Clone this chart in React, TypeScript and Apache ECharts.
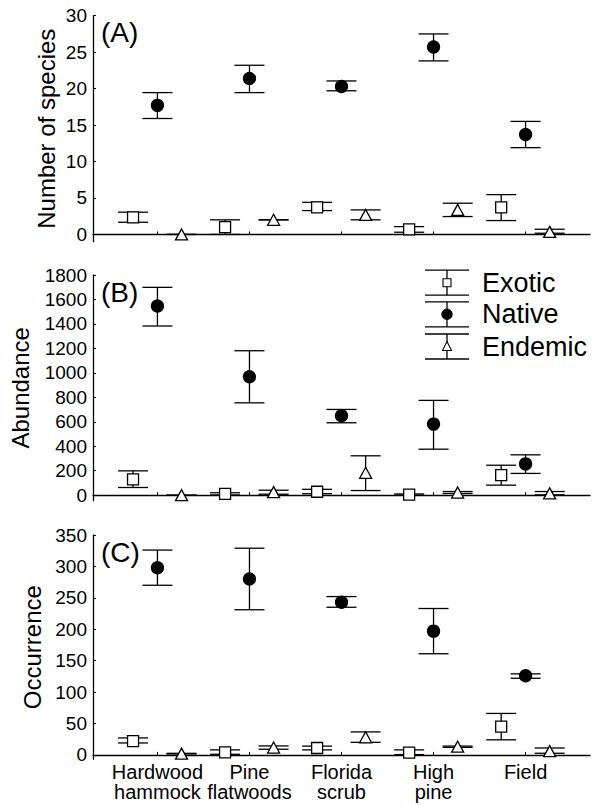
import React, { useEffect, useRef } from "react";
import * as echarts from "echarts";

const categories = ["Hardwood\nhammock", "Pine\nflatwoods", "Florida\nscrub", "High\npine", "Field"];
const seriesNames = ["Exotic", "Native", "Endemic"];

// Panel A: Number of species
const speciesExotic = [2.35, 1.0, 3.7, 0.7, 3.7];
const speciesExoticLow = [1.67, 0.0, 3.27, 0.3, 1.9];
const speciesExoticHigh = [3.05, 2.0, 4.4, 1.07, 5.46];
const speciesNative = [17.7, 21.4, 20.3, 25.7, 13.7];
const speciesNativeLow = [15.9, 19.45, 19.7, 23.8, 11.9];
const speciesNativeHigh = [19.45, 23.2, 21.05, 27.5, 15.5];
const speciesEndemic = [0, 2.0, 2.67, 3.36, 0.35];
const speciesEndemicLow = [0, 2.0, 2.0, 2.45, 0.16];
const speciesEndemicHigh = [0, 2.0, 3.36, 4.28, 0.71];

// Panel B: Abundance
const abundExotic = [130, 10, 28, 5, 164];
const abundExoticLow = [63, 2, 12, 0, 82];
const abundExoticHigh = [199, 20, 48, 10, 245];
const abundNative = [1546, 968, 650, 581, 256];
const abundNativeLow = [1383, 755, 592, 376, 178];
const abundNativeHigh = [1699, 1181, 701, 775, 330];
const abundEndemic = [0, 25, 183, 22, 15];
const abundEndemicLow = [0, 8, 38, 14, 3];
const abundEndemicHigh = [0, 41, 322, 30, 30];

// Panel C: Occurrence
const occExotic = [22, 4, 11, 3.7, 45];
const occExoticLow = [19, 1, 8, 0.5, 24];
const occExoticHigh = [27, 8, 14, 8, 66];
const occNative = [298, 280, 243, 197, 126];
const occNativeLow = [270, 231, 235, 161, 122];
const occNativeHigh = [326, 329, 252, 233, 129];
const occEndemic = [2, 11.7, 28, 13, 6];
const occEndemicLow = [1.5, 9, 20, 12, 2.6];
const occEndemicHigh = [2.5, 14.3, 36.6, 14, 11];

const speciesTicks = [0, 5, 10, 15, 20, 25, 30];
const abundTicks = [0, 200, 400, 600, 800, 1000, 1200, 1400, 1600, 1800];
const occTicks = [0, 50, 100, 150, 200, 250, 300, 350];
const categoryTicks = [1, 2, 3, 4, 5];

const FONT = '"Liberation Sans", Arial, Helvetica, sans-serif';
const INK = "#000";
const LW = 1.3;

const offsets = [-0.265, 0, 0.262];
const symbols = ["rect", "circle", "triangle"];
const symbolSizes: any[] = [11, 12, [12, 11]];
const fills = ["#fff", "#000", "#fff"];

const panels = [
  {
    title: "Number of species",
    letter: "(A)",
    grid: { left: 93, top: 15.7, width: 497, height: 226 },
    ymin: -1,
    ymax: 30,
    ticks: speciesTicks,
    titleX: 46,
    vals: [speciesExotic, speciesNative, speciesEndemic],
    lows: [speciesExoticLow, speciesNativeLow, speciesEndemicLow],
    highs: [speciesExoticHigh, speciesNativeHigh, speciesEndemicHigh],
  },
  {
    title: "Abundance",
    letter: "(B)",
    grid: { left: 93, top: 275, width: 497, height: 225.7 },
    ymin: -45,
    ymax: 1800,
    ticks: abundTicks,
    titleX: 20,
    vals: [abundExotic, abundNative, abundEndemic],
    lows: [abundExoticLow, abundNativeLow, abundEndemicLow],
    highs: [abundExoticHigh, abundNativeHigh, abundEndemicHigh],
  },
  {
    title: "Occurrence",
    letter: "(C)",
    grid: { left: 93, top: 535, width: 497, height: 224.3 },
    ymin: -7,
    ymax: 350,
    ticks: occTicks,
    titleX: 32.5,
    vals: [occExotic, occNative, occEndemic],
    lows: [occExoticLow, occNativeLow, occEndemicLow],
    highs: [occExoticHigh, occNativeHigh, occEndemicHigh],
  },
];

function errorBarRender(params: any, api: any) {
  const x = api.value(0);
  const lo = api.coord([x, api.value(1)]);
  const hi = api.coord([x, api.value(2)]);
  const hw = 15;
  const style = { stroke: INK, lineWidth: LW };
  return {
    type: "group",
    children: [
      { type: "line", shape: { x1: lo[0], y1: lo[1], x2: hi[0], y2: hi[1] }, style },
      { type: "line", shape: { x1: lo[0] - hw, y1: lo[1], x2: lo[0] + hw, y2: lo[1] }, style },
      { type: "line", shape: { x1: hi[0] - hw, y1: hi[1], x2: hi[0] + hw, y2: hi[1] }, style },
    ],
  };
}

function buildOption() {
  const grid = panels.map((p) => p.grid);
  const xAxis = panels.map((p, i) => ({
    type: "value",
    gridIndex: i,
    min: 0.3,
    max: 5.7,
    axisLine: { show: true, lineStyle: { color: INK, width: LW } },
    axisTick: {
      show: true,
      inside: true,
      length: 3,
      customValues: categoryTicks,
      lineStyle: { color: INK, width: 1 },
    },
    axisLabel: {
      show: i === 2,
      customValues: categoryTicks,
      formatter: (v: number) => categories[Math.round(v) - 1] || "",
      color: INK,
      fontSize: 20,
      lineHeight: 20,
      fontFamily: FONT,
      margin: 3,
    },
    splitLine: { show: false },
  }));
  const yAxis = panels.map((p, i) => ({
    type: "value",
    gridIndex: i,
    min: p.ymin,
    max: p.ymax,
    axisLine: { show: true, lineStyle: { color: INK, width: LW } },
    axisTick: {
      show: true,
      inside: true,
      length: 3,
      customValues: p.ticks,
      lineStyle: { color: INK, width: 1 },
    },
    axisLabel: {
      show: true,
      customValues: p.ticks,
      formatter: (v: number) => String(v),
      color: INK,
      fontSize: 19,
      fontFamily: FONT,
      margin: 6,
    },
    splitLine: { show: false },
  }));

  const series: any[] = [];
  panels.forEach((p, pi) => {
    for (let s = 0; s < 3; s++) {
      series.push({
        type: "custom",
        name: seriesNames[s] + " error",
        xAxisIndex: pi,
        yAxisIndex: pi,
        renderItem: errorBarRender,
        encode: { x: 0, y: [1, 2] },
        data: categories.map((_, i) => [i + 1 + offsets[s], p.lows[s][i], p.highs[s][i]]),
        z: 2,
        silent: true,
      });
    }
    for (let s = 0; s < 3; s++) {
      series.push({
        type: "scatter",
        name: seriesNames[s],
        xAxisIndex: pi,
        yAxisIndex: pi,
        symbol: symbols[s],
        symbolSize: symbolSizes[s],
        itemStyle: { color: fills[s], borderColor: INK, borderWidth: LW, opacity: 1 },
        data: categories.map((_, i) => [i + 1 + offsets[s], p.vals[s][i]]),
        z: 3,
        silent: true,
      });
    }
  });

  const graphic: any[] = [];
  panels.forEach((p) => {
    graphic.push({
      type: "text",
      x: p.titleX,
      y: p.grid.top + p.grid.height / 2,
      rotation: Math.PI / 2,
      style: {
        text: p.title,
        fontSize: 24,
        fontFamily: FONT,
        fill: INK,
        align: "center",
        verticalAlign: "middle",
      },
    });
    graphic.push({
      type: "text",
      x: 101,
      y: p.grid.top + 17,
      style: {
        text: p.letter,
        fontSize: 28,
        fontFamily: FONT,
        fill: INK,
        align: "left",
        verticalAlign: "middle",
      },
    });
  });

  // Legend (error-bar glyphs)
  const legendMids = [282.7, 314.3, 346.5];
  const lx0 = 425;
  const lx1 = 469;
  const lxc = (lx0 + lx1) / 2;
  const lstyle = { stroke: INK, lineWidth: LW };
  legendMids.forEach((m, s) => {
    const t = m - 12.5;
    const b = m + 12.5;
    graphic.push({ type: "line", shape: { x1: lx0, y1: t, x2: lx1, y2: t }, style: lstyle, z: 10 });
    graphic.push({ type: "line", shape: { x1: lx0, y1: b, x2: lx1, y2: b }, style: lstyle, z: 10 });
    graphic.push({ type: "line", shape: { x1: lxc, y1: t, x2: lxc, y2: b }, style: lstyle, z: 10 });
    if (s === 0) {
      graphic.push({
        type: "rect",
        shape: { x: lxc - 4, y: m - 4, width: 8, height: 8 },
        style: { fill: "#fff", stroke: INK, lineWidth: 1.1 },
        z: 11,
      });
    } else if (s === 1) {
      graphic.push({
        type: "circle",
        shape: { cx: lxc, cy: m, r: 5.2 },
        style: { fill: INK, stroke: INK, lineWidth: 1 },
        z: 11,
      });
    } else {
      graphic.push({
        type: "polygon",
        shape: { points: [[lxc, m - 5], [lxc - 4.5, m + 4], [lxc + 4.5, m + 4]] },
        style: { fill: "#fff", stroke: INK, lineWidth: 1.1 },
        z: 11,
      });
    }
    graphic.push({
      type: "text",
      x: 482,
      y: m,
      style: {
        text: seriesNames[s],
        fontSize: 27,
        fontFamily: FONT,
        fill: INK,
        align: "left",
        verticalAlign: "middle",
      },
      z: 11,
    });
  });

  return {
    animation: false,
    backgroundColor: "#fff",
    grid,
    xAxis,
    yAxis,
    series,
    graphic,
  };
}

export default function App() {
  const ref = useRef<HTMLDivElement>(null);
  useEffect(() => {
    if (!ref.current) return;
    const chart = echarts.init(ref.current, null, { renderer: "svg" });
    chart.setOption(buildOption() as any);
    return () => chart.dispose();
  }, []);
  return (
    <div
      ref={ref}
      style={{ position: "fixed", left: 0, top: 0, width: 594, height: 805, background: "#fff" }}
    />
  );
}
